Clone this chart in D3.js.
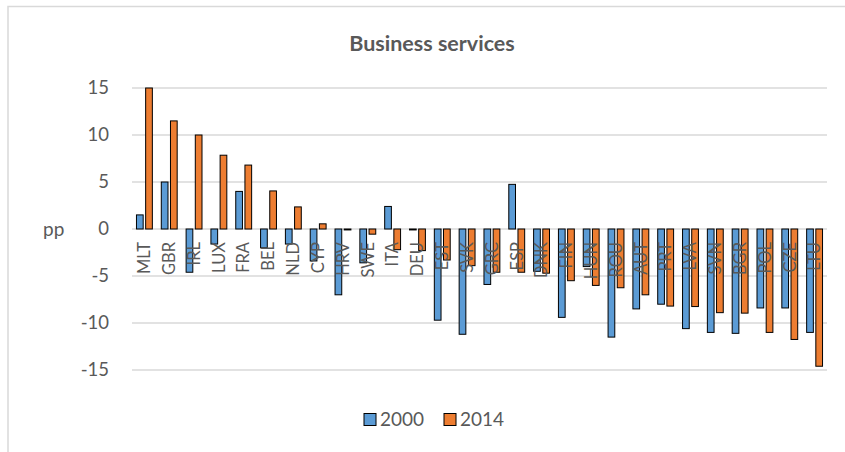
<!DOCTYPE html>
<html>
<head>
<meta charset="utf-8">
<script src="https://cdn.jsdelivr.net/npm/d3@7/dist/d3.min.js"></script>
<style>
  html, body { margin: 0; padding: 0; background: #fff; }
  svg { display: block; font-family: Lato, "Open Sans", "Liberation Sans", sans-serif; }
</style>
</head>
<body>
<svg id="chart" width="845" height="452"></svg>
<script>
// Change in business services share, percentage points, by country
const countries = ["MLT","GBR","IRL","LUX","FRA","BEL","NLD","CYP","HRV","SWE","ITA","DEU","EST","SVK",
                   "GRC","ESP","DNK","FIN","HUN","ROU","AUT","PRT","LVA","SVN","BGR","POL","CZE","LTU"];
const values2000 = [1.5, 5.0, -4.6, -1.6, 4.0, -2.0, -1.6, -3.4, -7.0, -3.6, 2.4, -0.1, -9.7, -11.2,
                    -5.9, 4.75, -4.5, -9.4, -4.0, -11.5, -8.5, -8.0, -10.6, -11.0, -11.1, -8.4, -8.4, -11.0];
const values2014 = [15.0, 11.5, 10.0, 7.85, 6.8, 4.05, 2.35, 0.55, -0.1, -0.55, -2.2, -2.3, -3.3, -3.9,
                    -4.6, -4.6, -4.7, -5.5, -6.0, -6.25, -7.0, -8.2, -8.25, -8.9, -8.95, -11.0, -11.75, -14.6];
const seriesNames = ["2000", "2014"];
const seriesColors = ["#5B9BD5", "#ED7D31"];
const yTicks = [15, 10, 5, 0, -5, -10, -15];

const svg = d3.select("#chart");
const textColor = "#595959";
const gridColor = "#d9d9d9";

// chart frame
svg.append("rect")
  .attr("x", 8).attr("y", 6.5).attr("width", 900).attr("height", 500)
  .attr("fill", "none").attr("stroke", gridColor).attr("stroke-width", 1.5);

const plot = { left: 132, right: 827, top: 88, bottom: 370 };

const x = d3.scaleBand().domain(countries).range([plot.left, plot.right]).padding(0);
const xs = d3.scaleBand().domain(seriesNames)
  .range([x.bandwidth() * 0.18, x.bandwidth() * 0.82]).paddingInner(0.27);
const y = d3.scaleLinear().domain([-15, 15]).range([plot.bottom, plot.top]);

// title
svg.append("text")
  .attr("x", 432).attr("y", 51)
  .attr("text-anchor", "middle")
  .attr("font-size", 21.5).attr("font-weight", "bold")
  .attr("fill", textColor)
  .text("Business services");

// horizontal gridlines
svg.append("g").selectAll("line").data(yTicks).join("line")
  .attr("x1", plot.left).attr("x2", plot.right)
  .attr("y1", d => y(d)).attr("y2", d => y(d))
  .attr("stroke", gridColor).attr("stroke-width", 1.3);

// y axis labels
const yAxis = d3.axisLeft(y).tickValues(yTicks).tickSize(0).tickPadding(0)
  .tickFormat(d => d3.format("d")(d).replace("−", "-"));
const yg = svg.append("g").attr("transform", `translate(${109},0)`).call(yAxis);
yg.select(".domain").remove();
yg.selectAll("text").attr("fill", textColor).attr("font-size", 18.5)
  .attr("font-family", 'Lato, "Open Sans", sans-serif');

// unit label
svg.append("text")
  .attr("x", 43).attr("y", y(0)).attr("dy", "0.35em")
  .attr("font-size", 19).attr("fill", textColor)
  .text("pp");

// bars
const rows = countries.map((c, i) => ({ c, v: [values2000[i], values2014[i]] }));
const groups = svg.append("g").selectAll("g").data(rows).join("g")
  .attr("transform", d => `translate(${x(d.c)},0)`);
groups.selectAll("rect")
  .data(d => d.v.map((v, k) => ({ k, v })))
  .join("rect")
  .attr("x", d => xs(seriesNames[d.k]))
  .attr("width", xs.bandwidth())
  .attr("y", d => Math.min(y(d.v), y(0)))
  .attr("height", d => Math.abs(y(d.v) - y(0)))
  .attr("fill", d => seriesColors[d.k])
  .attr("stroke", "#000").attr("stroke-width", 1);

// category labels, rotated, hanging just below the zero line
svg.append("g").selectAll("text").data(countries).join("text")
  .attr("transform", d => `translate(${x(d) + x.bandwidth() / 2},${y(0) + 13}) rotate(-90)`)
  .attr("text-anchor", "end")
  .attr("dy", "0.35em")
  .attr("font-size", 16.5)
  .attr("fill", textColor)
  .text(d => d);

// legend
const legend = svg.append("g");
const legendX = [364, 444];
seriesNames.forEach((s, k) => {
  legend.append("rect")
    .attr("x", legendX[k]).attr("y", 413.5).attr("width", 12).attr("height", 12)
    .attr("fill", seriesColors[k]).attr("stroke", "#000").attr("stroke-width", 1);
  legend.append("text")
    .attr("x", legendX[k] + 16).attr("y", 426)
    .attr("font-size", 19).attr("fill", textColor)
    .text(s);
});
</script>
</body>
</html>
